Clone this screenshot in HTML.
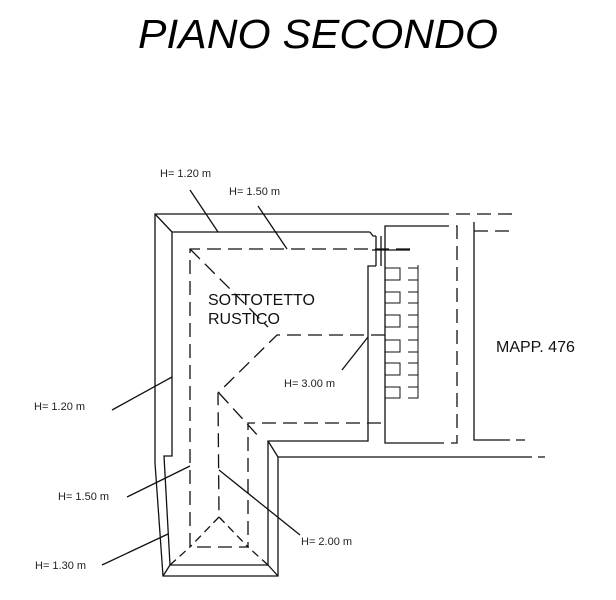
<!DOCTYPE html>
<html><head><meta charset="utf-8"><style>html,body{margin:0;padding:0;background:#fff;}svg{display:block}</style></head>
<body>
<svg width="616" height="600" viewBox="0 0 616 600" xmlns="http://www.w3.org/2000/svg" font-family="Liberation Sans, sans-serif">
<text x="138" y="48" font-size="41" font-style="italic" textLength="360" lengthAdjust="spacingAndGlyphs" fill="#000">PIANO SECONDO</text>
<g stroke="#111" stroke-width="1.3" fill="none">
<!-- outer wall -->
<polyline points="435,214 155,214 155,463 163,576 278,576 278,457 520,457"/>
<line x1="520" y1="457" x2="545" y2="457" stroke-dasharray="12,6"/>
<line x1="435" y1="214" x2="518" y2="214" stroke-dasharray="14,7"/>
<!-- inner wall -->
<polyline points="370,232 172,232 172,456 164,456 170,565 268,565 268,441 368,441 368,266 376,266"/>
<polyline points="370,232 373,236 376,236"/>
<line x1="376" y1="236" x2="376" y2="266"/><line x1="381" y1="236" x2="381" y2="266"/>
<line x1="372" y1="250" x2="410" y2="250"/>
<!-- corridor lines -->
<polyline points="435,226 385,226 385,443 435,443"/>
<polyline points="435,226 457,226 457,443 435,443" stroke-dasharray="14,7"/>
<polyline points="474,222 474,440 500,440"/>
<line x1="500" y1="440" x2="525" y2="440" stroke-dasharray="10,6"/>
<line x1="474" y1="231" x2="510" y2="231" stroke-dasharray="14,7"/>
<!-- dashed eaves -->
<g stroke-dasharray="14,7">
<polyline points="410,249 190,249 190,547 248,547 248,423 385,423"/>
<polyline points="385,335 277,335 218,393 219,517"/>
<line x1="190" y1="249" x2="268" y2="327"/>
<line x1="219" y1="393" x2="260" y2="438"/>
<line x1="219" y1="517" x2="190" y2="547" stroke-dasharray="8,5"/>
<line x1="219" y1="517" x2="248" y2="547" stroke-dasharray="8,5"/>
<line x1="170" y1="565" x2="190" y2="547" stroke-dasharray="8,5"/>
<line x1="268" y1="565" x2="248" y2="547" stroke-dasharray="8,5"/>
</g>
<!-- corners -->
<line x1="155" y1="214" x2="172" y2="232"/>
<line x1="163" y1="576" x2="170" y2="565"/>
<line x1="278" y1="576" x2="268" y2="565"/>
<line x1="268" y1="441" x2="278" y2="457"/>
<!-- leaders -->
<line x1="190" y1="190" x2="218" y2="232"/>
<line x1="258" y1="206" x2="287" y2="249"/>
<line x1="342" y1="370" x2="368" y2="337"/>
<line x1="112" y1="410" x2="172" y2="377"/>
<line x1="127" y1="497" x2="190" y2="466"/>
<line x1="102" y1="565" x2="168" y2="534"/>
<line x1="219" y1="470" x2="300" y2="535"/>
<!-- stairs -->
<g stroke-width="1">
<rect x="385" y="268" width="15" height="12"/><rect x="385" y="292" width="15" height="11"/>
<rect x="385" y="315" width="15" height="12"/><rect x="385" y="340" width="15" height="12"/>
<rect x="385" y="363" width="15" height="12"/><rect x="385" y="387" width="15" height="11"/>
<path d="M408,268h10v12h-10M408,292h10v11h-10M408,315h10v12h-10M408,340h10v12h-10M408,363h10v12h-10M408,387h10v11h-10"/>
<line x1="418" y1="265" x2="418" y2="398"/>
</g>
</g>
<g font-size="11" fill="#222">
<text x="160" y="177">H= 1.20 m</text>
<text x="229" y="195">H= 1.50 m</text>
<text x="284" y="387">H= 3.00 m</text>
<text x="34" y="410">H= 1.20 m</text>
<text x="58" y="500">H= 1.50 m</text>
<text x="35" y="569">H= 1.30 m</text>
<text x="301" y="545">H= 2.00 m</text>
</g>
<text x="208" y="305" font-size="16" fill="#111">SOTTOTETTO</text>
<text x="208" y="324" font-size="16" fill="#111">RUSTICO</text>
<text x="496" y="352" font-size="16" fill="#111">MAPP. 476</text>
</svg>
</body></html>
